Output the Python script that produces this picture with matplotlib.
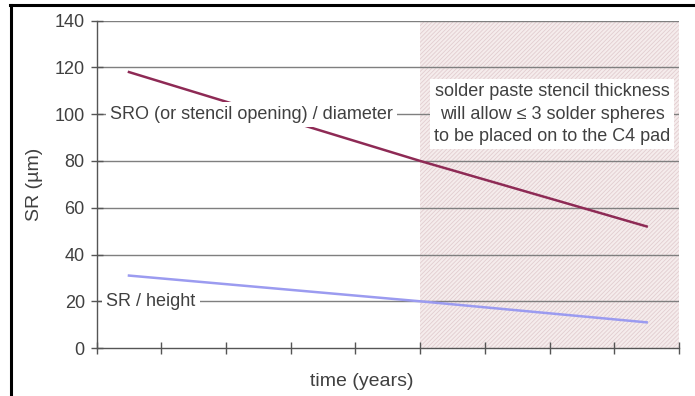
import matplotlib
matplotlib.use("Agg")
import matplotlib.pyplot as plt
from matplotlib.lines import Line2D

plt.rcParams['font.family'] = ['Liberation Sans', 'DejaVu Sans']
plt.rcParams['hatch.color'] = '#e2cdd0'
plt.rcParams['hatch.linewidth'] = 0.6

# data
time_pts = [0.5, 5, 8.5]
sro_diameter = [118, 80, 52]
sr_height = [31, 20, 11]
x_ticks = list(range(0, 10))
y_ticks = [0, 20, 40, 60, 80, 100, 120, 140]
shade_start, shade_end = 5, 9

fig = plt.figure(figsize=(6.95, 3.96), dpi=100)
ax = fig.add_axes([0.139, 0.121, 0.838, 0.827])
ax.set_xlim(0, 9)
ax.set_ylim(0, 140)

ax.axvspan(shade_start, shade_end, ymin=0, ymax=1, facecolor='#f5ecec',
           edgecolor='#e2cdd0', hatch='////////', linewidth=0, zorder=0)

for y in y_ticks[1:]:
    ax.axhline(y, color='#7f7f7f', linewidth=1.0, zorder=1)

ax.plot(time_pts, sro_diameter, color='#8e2a55', linewidth=1.8, zorder=2)
ax.plot(time_pts, sr_height, color='#9b9bf0', linewidth=1.8, zorder=2)

tc = '#404040'
box = dict(facecolor='white', edgecolor='none', pad=3.0)
ax.text(0.21, 100, 'SRO (or stencil opening) / diameter', fontsize=13,
        color=tc, va='center', ha='left', bbox=box, zorder=4)
ax.text(0.15, 20, 'SR / height', fontsize=13, color=tc,
        va='center', ha='left', bbox=box, zorder=4)
ax.text(7.04, 100, 'solder paste stencil thickness\nwill allow \u2264 3 solder spheres\nto be placed on to the C4 pad',
        fontsize=13, color=tc, va='center', ha='center',
        linespacing=1.4, bbox=dict(facecolor='white', edgecolor='none', pad=3), zorder=4)

ax.set_xticks(x_ticks)
ax.set_xticklabels([])
ax.set_yticks(y_ticks)
ax.tick_params(axis='both', direction='inout', length=9, width=1, color='#555555',
               labelsize=13, labelcolor=tc)
ax.tick_params(axis='y', pad=4)

for s in ['top', 'right']:
    ax.spines[s].set_visible(False)
for s in ['left', 'bottom']:
    ax.spines[s].set_color('#555555')
    ax.spines[s].set_linewidth(1)

ax.set_ylabel('SR (µm)', fontsize=14, color=tc, labelpad=8)
fig.text(362 / 695, 1 - 381 / 396, 'time (years)', fontsize=14, color=tc,
         ha='center', va='center')

# partial outer frame (left and top edges)
fig.lines.append(Line2D([11 / 695, 11 / 695], [0, 1 - 5 / 396], transform=fig.transFigure,
                        color='black', linewidth=2.2))
fig.lines.append(Line2D([10 / 695, 1], [1 - 5 / 396, 1 - 5 / 396], transform=fig.transFigure,
                        color='black', linewidth=2.2))

fig.savefig('out.png', dpi=100)
